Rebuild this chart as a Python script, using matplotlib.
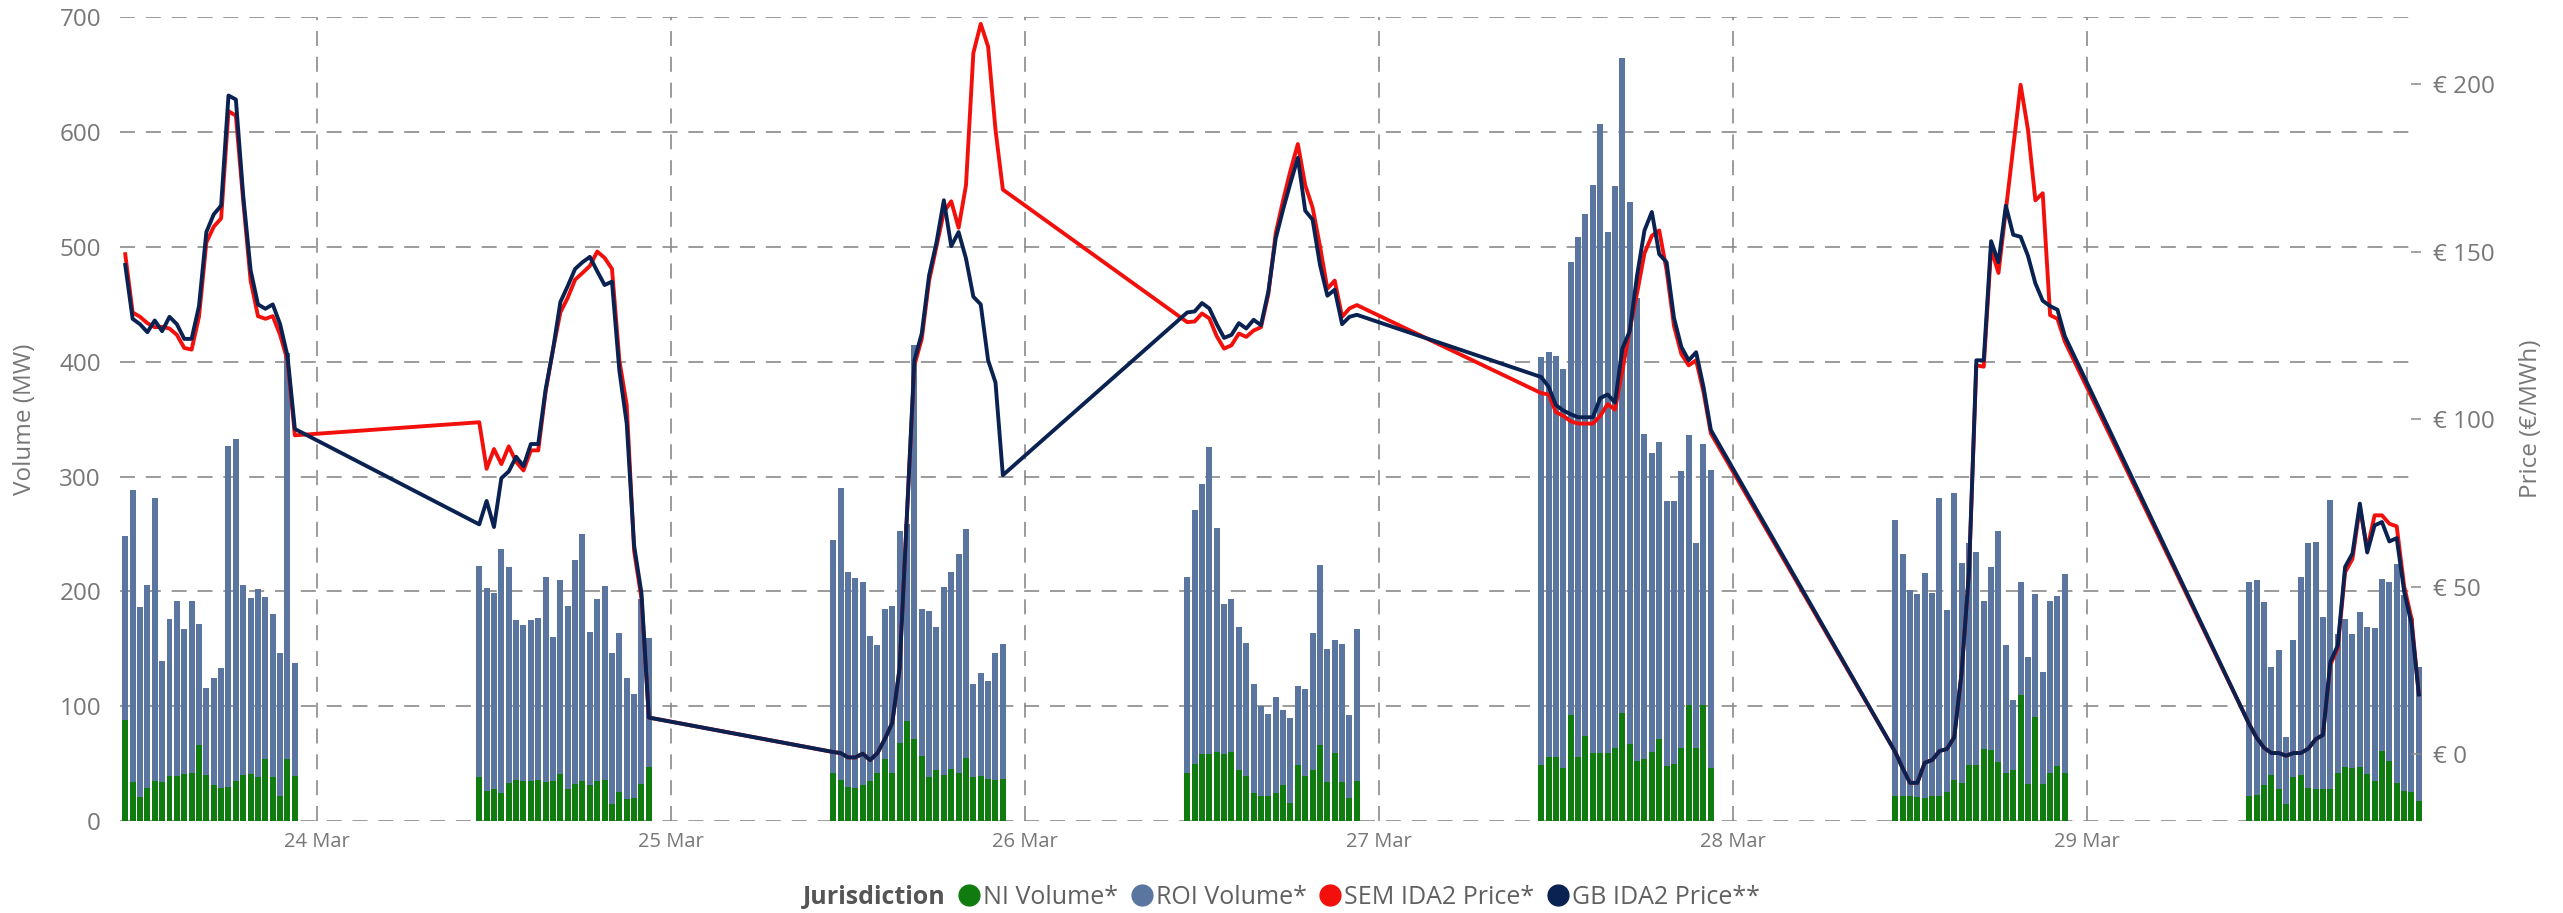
import datetime as dt
import numpy as np
import matplotlib
matplotlib.use("Agg")
import matplotlib.pyplot as plt
import matplotlib.dates as mdates
from matplotlib.lines import Line2D
from matplotlib.ticker import FuncFormatter

plt.rcParams['font.family'] = ['Open Sans', 'DejaVu Sans']

# trading days and half-hour periods (IDA2 covers 11:00 - 23:00)
days = [dt.datetime(2024, 3, d) for d in range(23, 30)]
period_hours = [11 + 0.5 * k for k in range(24)]

# volumes (MW), one row per day
ni_volume = [
    [88, 34, 21, 29, 35, 34, 39, 39, 41, 42, 66, 40, 31, 29, 30, 35, 40, 41, 38, 54, 38, 22, 54, 39],
    [38, 26, 28, 24, 33, 36, 35, 35, 36, 34, 35, 41, 28, 32, 35, 31, 35, 36, 15, 25, 19, 20, 32, 47],
    [42, 36, 30, 29, 31, 35, 42, 54, 42, 68, 87, 71, 57, 38, 44, 40, 45, 42, 55, 38, 39, 37, 36, 37],
    [42, 50, 58, 58, 60, 58, 60, 44, 39, 24, 22, 22, 24, 31, 16, 49, 39, 44, 66, 34, 59, 34, 20, 35],
    [49, 56, 56, 46, 92, 56, 74, 59, 59, 59, 64, 94, 67, 52, 54, 60, 71, 48, 50, 64, 101, 64, 101, 46],
    [22, 22, 22, 21, 20, 22, 22, 25, 36, 33, 49, 49, 63, 62, 51, 42, 44, 110, 32, 91, 32, 42, 48, 42],
    [22, 23, 31, 40, 28, 15, 38, 40, 29, 28, 28, 28, 42, 47, 46, 47, 41, 35, 61, 52, 33, 26, 25, 17],
]
roi_volume = [
    [160, 254, 165, 177, 246, 105, 137, 153, 126, 150, 106, 76, 94, 104, 297, 298, 166, 153, 164, 141, 142, 124, 354, 99],
    [184, 177, 171, 213, 188, 139, 136, 140, 141, 179, 125, 169, 159, 195, 215, 134, 158, 169, 131, 139, 106, 91, 161, 112],
    [203, 254, 187, 183, 177, 126, 111, 131, 145, 185, 172, 344, 128, 145, 125, 164, 172, 191, 199, 81, 90, 85, 110, 117],
    [171, 221, 236, 268, 195, 131, 133, 125, 116, 95, 78, 71, 84, 66, 74, 69, 76, 120, 157, 116, 99, 120, 72, 132],
    [355, 353, 349, 348, 395, 453, 455, 495, 548, 454, 489, 571, 472, 404, 283, 261, 259, 231, 229, 241, 235, 178, 227, 260],
    [240, 211, 179, 177, 196, 177, 259, 159, 250, 192, 193, 185, 129, 159, 202, 111, 61, 98, 111, 107, 98, 150, 148, 173],
    [186, 187, 160, 94, 121, 58, 120, 173, 213, 215, 150, 252, 121, 129, 117, 135, 128, 133, 150, 156, 191, 171, 152, 117],
]

# prices (EUR/MWh), one row per day
sem_price = [
    [149.3, 131.9, 130.6, 128.7, 127.5, 127.6, 127.1, 125.2, 121.3, 120.8, 130.6, 152.8, 157.5, 160.0, 192.0, 190.7, 165.1, 141.4, 130.8, 130.0, 130.8, 125.2, 117.6, 95.2],
    [99.1, 85.2, 91.1, 86.6, 91.9, 87.3, 84.7, 90.7, 90.7, 108.2, 120.8, 131.9, 136.3, 141.7, 143.7, 145.8, 150.1, 148.2, 144.9, 117.6, 104.2, 60.7, 46.4, 10.9],
    [0.6, 0.3, -1.0, -1.0, 0.1, -1.8, 0.3, 4.5, 9.3, 25.6, 71.8, 116.1, 124.0, 141.4, 151.7, 161.9, 165.1, 157.2, 169.9, 209.4, 218.1, 211.3, 186.5, 168.6],
    [129.0, 129.2, 131.6, 130.1, 124.8, 121.1, 122.1, 125.6, 124.6, 126.5, 127.5, 137.4, 155.6, 165.4, 174.3, 182.2, 169.9, 163.2, 151.7, 139.0, 141.4, 130.6, 133.1, 134.1],
    [107.8, 107.4, 102.1, 101.0, 99.4, 98.7, 98.7, 98.7, 101.0, 104.5, 102.9, 114.5, 126.8, 137.7, 149.6, 154.8, 156.4, 144.5, 127.9, 119.5, 116.1, 117.6, 108.2, 95.8],
    [0.6, -4.2, -8.6, -8.6, -2.6, -1.8, 0.9, 1.5, 5.0, 24.3, 54.4, 116.1, 115.7, 150.9, 143.7, 162.4, 181.2, 199.9, 186.5, 165.4, 167.5, 131.1, 130.0, 123.2],
    [8.9, 4.9, 1.9, 0.3, 0.3, -0.5, 0.3, 0.3, 1.6, 4.4, 5.7, 26.7, 31.6, 54.3, 58.3, 73.7, 61.2, 71.3, 71.3, 68.8, 68.0, 50.2, 40.5, 17.8],
]
gb_price = [
    [146.1, 130.0, 128.4, 126.0, 129.5, 126.3, 130.6, 128.4, 124.0, 124.0, 133.8, 155.9, 161.2, 163.8, 196.7, 195.5, 166.7, 144.5, 134.3, 133.0, 134.3, 128.4, 118.9, 97.1],
    [68.6, 75.6, 67.8, 82.4, 84.4, 88.8, 86.0, 92.6, 92.6, 108.9, 120.8, 135.0, 139.8, 144.9, 146.9, 148.5, 144.2, 140.1, 141.1, 114.5, 98.7, 62.3, 48.0, 10.9],
    [0.6, 0.3, -1.0, -1.0, 0.1, -1.8, 0.3, 4.5, 9.3, 25.6, 71.8, 117.6, 125.6, 143.0, 152.8, 165.4, 151.7, 155.9, 148.0, 136.6, 134.3, 117.6, 111.0, 83.3],
    [131.9, 132.2, 134.7, 133.1, 128.4, 124.3, 125.2, 128.7, 127.1, 129.7, 128.1, 138.2, 154.0, 162.7, 170.6, 178.1, 162.3, 159.6, 146.1, 136.9, 138.7, 128.4, 130.6, 131.2],
    [112.6, 109.7, 104.2, 102.6, 101.5, 100.6, 100.6, 100.6, 106.3, 107.4, 105.0, 121.1, 126.3, 143.0, 156.4, 161.9, 149.3, 146.9, 130.3, 121.6, 117.6, 120.0, 109.7, 96.8],
    [0.6, -4.2, -8.6, -8.6, -2.6, -1.8, 0.9, 1.5, 5.0, 24.3, 54.4, 117.6, 117.6, 153.2, 146.9, 163.8, 155.1, 154.5, 148.8, 140.6, 135.4, 133.8, 132.7, 124.8],
    [8.9, 4.9, 1.9, 0.3, 0.3, -0.5, 0.3, 0.3, 1.6, 4.4, 5.7, 27.5, 32.4, 55.9, 59.9, 74.8, 60.2, 68.3, 69.3, 63.5, 64.5, 48.6, 38.9, 17.8],
]

c_ni = '#107C10'
c_roi = '#5A76A0'
c_sem = '#F2100C'
c_gb = '#0A2251'
c_text = '#777777'
c_grid = '#8A8A8A'

times = [d + dt.timedelta(hours=h) for d in days for h in period_hours]
ni = np.array(ni_volume).ravel()
roi = np.array(roi_volume).ravel()
sem = np.array(sem_price).ravel()
gb = np.array(gb_price).ravel()

fig = plt.figure(figsize=(25.63, 9.13), dpi=100)
ax = fig.add_axes([0.04701, 0.10077, 0.89368, 0.88007])

bar_w = 0.0169
ax.bar(times, ni, width=bar_w, color=c_ni, clip_on=False, zorder=2)
ax.bar(times, roi, bottom=ni, width=bar_w, color=c_roi, clip_on=False, zorder=2)

ax.set_ylim(0, 700)
ax.set_yticks(range(0, 701, 100))
x0 = mdates.date2num(dt.datetime(2024, 3, 24))
ax.set_xlim(x0 - 0.5551, x0 + 5.9153)
ax.xaxis.set_major_locator(mdates.DayLocator())
ax.xaxis.set_major_formatter(mdates.DateFormatter('%d %b'))
ax.set_axisbelow(True)
ax.grid(True, color=c_grid, linestyle=(0, (9, 6.5)), linewidth=1.2)
ax.tick_params(axis='y', length=0, pad=14, labelsize=17.5, labelcolor=c_text)
ax.tick_params(axis='x', length=0, pad=8, labelsize=14.5, labelcolor=c_text)
ax.set_ylabel('Volume (MW)', fontsize=17.5, color=c_text)
ax.yaxis.set_label_coords(-0.0365, 0.5)

ax2 = ax.twinx()
ax2.plot(times, sem, color=c_sem, linewidth=2.8, clip_on=False, zorder=3)
ax2.plot(times, gb, color=c_gb, linewidth=2.8, clip_on=False, zorder=4)
ax2.set_ylim(-20, 220)
ax2.set_yticks([0, 50, 100, 150, 200])
ax2.yaxis.set_major_formatter(FuncFormatter(lambda v, p: f'€ {v:.0f}'))
ax2.tick_params(axis='y', direction='out', length=7, width=1.1, color=c_grid,
                pad=9, labelsize=17.5, labelcolor=c_text)
ax2.set_ylabel('Price (€/MWh)', fontsize=17.5, color=c_text)
ax2.yaxis.set_label_coords(1.0472, 0.5)

for a in (ax, ax2):
    for s in a.spines.values():
        s.set_visible(False)

handles = [Line2D([], [], linestyle='', marker='o', markersize=0),
           Line2D([], [], linestyle='', marker='o', markersize=15, color=c_ni),
           Line2D([], [], linestyle='', marker='o', markersize=15, color=c_roi),
           Line2D([], [], linestyle='', marker='o', markersize=15, color=c_sem),
           Line2D([], [], linestyle='', marker='o', markersize=15, color=c_gb)]
labels = ['Jurisdiction', 'NI Volume*', 'ROI Volume*', 'SEM IDA2 Price*', 'GB IDA2 Price**']
leg = fig.legend(handles, labels, loc='center', bbox_to_anchor=(0.495, 0.0175), ncol=5,
                 frameon=False, fontsize=18, handlelength=0.9, handletextpad=0.1,
                 columnspacing=0.5, borderpad=0)
for i, t in enumerate(leg.get_texts()):
    t.set_color('#606060')
    if i == 0:
        t.set_fontweight('bold')
        t.set_color('#555555')

fig.savefig('out.png', dpi=100)
